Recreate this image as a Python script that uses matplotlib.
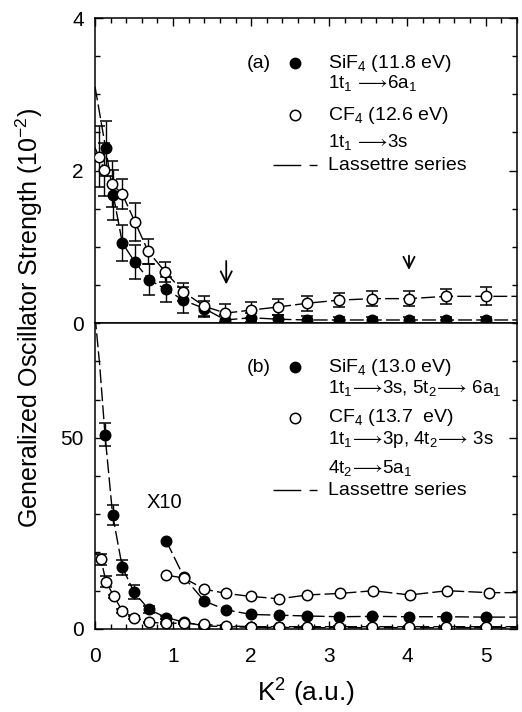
import matplotlib
matplotlib.use("Agg")
import matplotlib.pyplot as plt
from matplotlib.ticker import MultipleLocator

# ---- fonts ----
plt.rcParams["font.family"] = ["Liberation Sans", "DejaVu Sans"]
plt.rcParams["mathtext.fontset"] = "custom"
plt.rcParams["mathtext.rm"] = "Liberation Sans"
plt.rcParams["mathtext.it"] = "Liberation Sans:italic"
plt.rcParams["mathtext.bf"] = "Liberation Sans:bold"

# ---- panel (a) data ----
a_sif4_x = [0.137, 0.234, 0.35, 0.51, 0.69, 0.91, 1.13, 1.4, 1.67, 2.0, 2.34, 2.72, 3.12, 3.55, 4.02, 4.5, 5.01]
a_sif4_y = [2.29, 1.68, 1.05, 0.80, 0.57, 0.44, 0.30, 0.19, 0.04, 0.07, 0.05, 0.04, 0.04, 0.04, 0.04, 0.04, 0.04]
a_sif4_err = [0.36, 0.33, 0.24, 0.22, 0.20, 0.17, 0.17, 0.10, 0.06, 0.06, 0.05, 0.05, 0.04, 0.04, 0.04, 0.04, 0.04]
a_sif4_lass_x0 = [0.0]
a_sif4_lass_y0 = [3.1]

a_cf4_x = [0.05, 0.12, 0.22, 0.35, 0.51, 0.68, 0.9, 1.13, 1.4, 1.67, 2.0, 2.34, 2.72, 3.12, 3.55, 4.02, 4.5, 5.01]
a_cf4_y = [2.18, 2.01, 1.82, 1.69, 1.33, 0.94, 0.67, 0.41, 0.22, 0.13, 0.17, 0.21, 0.26, 0.30, 0.32, 0.32, 0.35, 0.35]
a_cf4_err = [0.40, 0.35, 0.30, 0.20, 0.25, 0.16, 0.13, 0.12, 0.14, 0.12, 0.10, 0.10, 0.10, 0.09, 0.10, 0.10, 0.10, 0.12]
a_cf4_lass_x0 = [0.0]
a_cf4_lass_y0 = [2.3]

a_arrow_x = [1.68, 4.02]
a_arrow_top = [0.85, 0.92]
a_arrow_tip = [0.47, 0.66]

# ---- panel (b) data ----
b_sif4_x = [0.128, 0.226, 0.35, 0.50, 0.69, 0.91, 1.14, 1.4, 1.68, 2.0, 2.36, 2.72, 3.12, 3.55, 4.02, 4.5, 5.01]
b_sif4_y = [50.8, 29.8, 16.1, 9.6, 5.1, 3.0, 1.8, 0.8, 0.6, 0.45, 0.4, 0.35, 0.35, 0.35, 0.35, 0.35, 0.35]
b_sif4_err = [3.0, 2.5, 2.0, 1.8, 1.0, 0.5, 0.3, 0.2, 0.2, 0.2, 0.2, 0.2, 0.2, 0.2, 0.2, 0.2, 0.2]
b_sif4_lass_x0 = [0.0, 0.06]
b_sif4_lass_y0 = [82.0, 69.0]

b_sif4_x10_x = [0.91, 1.14, 1.4, 1.68, 2.0, 2.36, 2.72, 3.12, 3.55, 4.02, 4.5, 5.01]
b_sif4_x10_y = [23.1, 13.5, 7.3, 5.0, 3.8, 3.6, 3.4, 3.2, 3.3, 3.2, 3.2, 3.1]

b_cf4_x = [0.077, 0.14, 0.243, 0.35, 0.50, 0.69, 0.91, 1.14, 1.4, 1.68, 2.0, 2.36, 2.72, 3.12, 3.55, 4.02, 4.5, 5.01]
b_cf4_y = [18.2, 12.4, 8.5, 4.7, 3.0, 1.75, 1.5, 1.5, 1.2, 0.8, 0.6, 0.6, 0.6, 0.6, 0.6, 0.6, 0.6, 0.6]
b_cf4_err = [1.5, 1.5, 0.5, 0.4, 0.3, 0.2, 0.2, 0.2, 0.2, 0.2, 0.2, 0.2, 0.2, 0.2, 0.2, 0.2, 0.2, 0.2]
b_cf4_lass_x0 = [0.0]
b_cf4_lass_y0 = [20.0]

b_cf4_x10_x = [0.91, 1.14, 1.4, 1.68, 2.0, 2.36, 2.72, 3.14, 3.56, 4.03, 4.51, 5.04]
b_cf4_x10_y = [14.1, 13.3, 10.4, 9.3, 8.5, 7.9, 8.9, 9.3, 10.0, 8.9, 10.0, 9.5]

XMAX = 5.4
DASH = (0, (10, 3))
MS = 7.5
ARROW = r"$\!\longrightarrow\!$"


def lass_line(ax, x0, y0, x, y):
    # dashed Lassettre curve through the points, extended to both edges
    xs = list(x0) + list(x) + [XMAX]
    ys = list(y0) + list(y) + [y[-1]]
    ax.plot(xs, ys, color="black", lw=1.0, linestyle=DASH, zorder=2)


def points(ax, x, y, err, filled):
    face = "black" if filled else "white"
    ax.errorbar(x, y, yerr=err, fmt="o", ms=MS, mfc=face, mec="black",
                mew=1.1, ecolor="black", elinewidth=1.0, capsize=4,
                capthick=1.0, zorder=4 if filled else 5)


def style_axes(ax, top_ticks, bottom_ticks):
    ax.set_xlim(0, XMAX)
    ax.xaxis.set_major_locator(MultipleLocator(1))
    ax.xaxis.set_minor_locator(MultipleLocator(0.2))
    ax.tick_params(which="both", direction="in", top=top_ticks,
                   bottom=bottom_ticks, right=True, left=True,
                   labelsize=15, width=1.0)
    ax.tick_params(which="major", length=6)
    ax.tick_params(which="minor", length=3.5)
    ax.tick_params(axis="y", pad=8)
    ax.tick_params(axis="x", pad=13)
    for s in ax.spines.values():
        s.set_linewidth(1.1)


def legend_block(ax, rows, x_label, y_tag, tag):
    # rows: (y_frac, marker_kind, text)
    ax.text(x_label - 0.005, y_tag, tag, transform=ax.transAxes,
            ha="right", va="center", fontsize=14)
    for yf, kind, txt in rows:
        if kind == "filled":
            ax.plot([0.474], [yf], "o", ms=MS, mfc="black", mec="black",
                    transform=ax.transAxes, clip_on=False)
        elif kind == "open":
            ax.plot([0.474], [yf], "o", ms=MS, mfc="white", mec="black",
                    mew=1.1, transform=ax.transAxes, clip_on=False)
        elif kind == "line":
            ax.plot([0.422, 0.526], [yf, yf], color="black", lw=1.0,
                    linestyle=(0, (20, 6)), transform=ax.transAxes)
        ax.text(0.552, yf, txt, transform=ax.transAxes, ha="left",
                va="center", fontsize=14 if kind else 13.5)


fig = plt.figure(figsize=(5.22, 7.12), dpi=100)
ax_a = fig.add_axes([0.182, 0.5463, 0.808, 0.4284])
ax_b = fig.add_axes([0.182, 0.1166, 0.808, 0.4297])

# ---- panel (a) ----
lass_line(ax_a, a_sif4_lass_x0, a_sif4_lass_y0, a_sif4_x, a_sif4_y)
lass_line(ax_a, a_cf4_lass_x0, a_cf4_lass_y0, a_cf4_x, a_cf4_y)
points(ax_a, a_sif4_x, a_sif4_y, a_sif4_err, True)
points(ax_a, a_cf4_x, a_cf4_y, a_cf4_err, False)
for xa, yt, yp in zip(a_arrow_x, a_arrow_top, a_arrow_tip):
    ax_a.annotate("", xy=(xa, yp), xytext=(xa, yt),
                  arrowprops=dict(arrowstyle="->", lw=1.3, color="black",
                                  mutation_scale=20))
ax_a.set_ylim(0, 4)
ax_a.yaxis.set_major_locator(MultipleLocator(2))
ax_a.yaxis.set_minor_locator(MultipleLocator(0.5))
style_axes(ax_a, True, False)
ax_a.tick_params(labelbottom=False)

legend_block(ax_a, [
    (0.852, "filled", "SiF$_4$ (11.8 eV)"),
    (0.787, None, "1t$_1$ " + ARROW + "6a$_1$"),
    (0.682, "open", "CF$_4$ (12.6 eV)"),
    (0.593, None, "1t$_1$ " + ARROW + "3s"),
    (0.518, "line", "Lassettre series"),
], 0.422, 0.852, "(a)")

# ---- panel (b) ----
lass_line(ax_b, b_sif4_lass_x0, b_sif4_lass_y0, b_sif4_x, b_sif4_y)
lass_line(ax_b, b_cf4_lass_x0, b_cf4_lass_y0, b_cf4_x, b_cf4_y)
lass_line(ax_b, [], [], b_sif4_x10_x, b_sif4_x10_y)
lass_line(ax_b, [], [], b_cf4_x10_x, b_cf4_x10_y)
points(ax_b, b_sif4_x, b_sif4_y, b_sif4_err, True)
points(ax_b, b_cf4_x, b_cf4_y, b_cf4_err, False)
points(ax_b, b_sif4_x10_x, b_sif4_x10_y, None, True)
points(ax_b, b_cf4_x10_x, b_cf4_x10_y, None, False)
ax_b.text(0.123, 0.415, "X10", transform=ax_b.transAxes, ha="left",
          va="center", fontsize=14.5)
ax_b.set_ylim(0, 80)
ax_b.yaxis.set_major_locator(MultipleLocator(50))
ax_b.yaxis.set_minor_locator(MultipleLocator(10))
style_axes(ax_b, False, True)

legend_block(ax_b, [
    (0.856, "filled", "SiF$_4$ (13.0 eV)"),
    (0.788, None, "1t$_1$" + ARROW + "3s, 5t$_2$" + ARROW + " 6a$_1$"),
    (0.690, "open", "CF$_4$ (13.7  eV)"),
    (0.618, None, "1t$_1$" + ARROW + "3p, 4t$_2$" + ARROW + " 3s"),
    (0.526, None, "4t$_2$" + ARROW + "5a$_1$"),
    (0.454, "line", "Lassettre series"),
], 0.422, 0.856, "(b)")

ax_b.set_xlabel("K$^2$ (a.u.)", fontsize=19, labelpad=8)
fig.text(0.057, 0.553, "Generalized Oscillator Strength (10$^{-2}$)",
         rotation=90, ha="center", va="center", fontsize=18)

fig.savefig("out.png", dpi=100)
